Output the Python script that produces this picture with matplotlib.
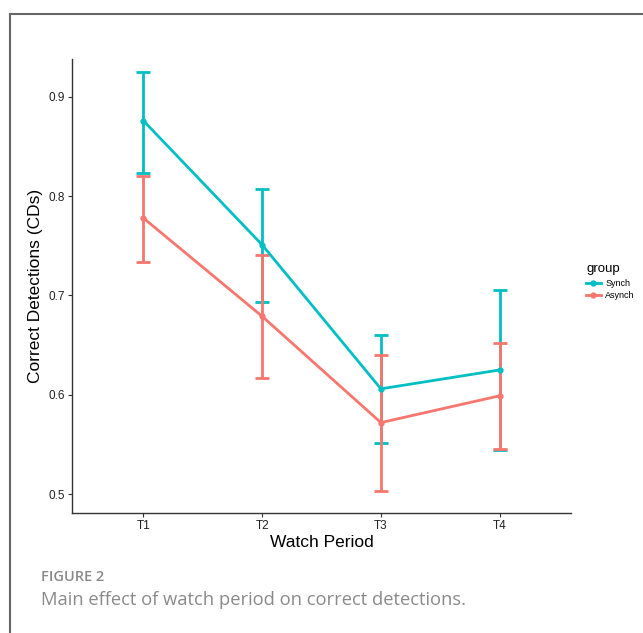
import matplotlib.pyplot as plt
from matplotlib.lines import Line2D
import numpy as np

periods = ["T1", "T2", "T3", "T4"]
groups = ["Synch", "Asynch"]
colors = {"Synch": "#00BFC4", "Asynch": "#F8766D"}

synch_mean = [0.876, 0.751, 0.606, 0.625]
synch_low = [0.823, 0.693, 0.551, 0.544]
synch_high = [0.925, 0.807, 0.660, 0.705]

asynch_mean = [0.778, 0.679, 0.572, 0.599]
asynch_low = [0.734, 0.617, 0.503, 0.545]
asynch_high = [0.820, 0.741, 0.640, 0.652]

plt.rcParams['font.family'] = ['Liberation Sans', 'DejaVu Sans']

fig = plt.figure(figsize=(6.43, 6.33), dpi=100)
ax = fig.add_axes([72 / 643, 1 - 513 / 633, (571 - 72) / 643, (513 - 59) / 633])

x = np.arange(1, len(periods) + 1)
series = {
    "Synch": (synch_mean, synch_low, synch_high),
    "Asynch": (asynch_mean, asynch_low, asynch_high),
}
# ggplot layer order: error bars for both groups, then lines, then points
for g in groups:
    m, lo, hi = (np.array(v) for v in series[g])
    ax.errorbar(x, m, yerr=[m - lo, hi - m], color=colors[g], fmt='none',
                elinewidth=2.0, capsize=5, capthick=2.0, zorder=2)
for g in groups:
    m = series[g][0]
    ax.plot(x, m, color=colors[g], lw=2.0, marker='o', markersize=3.5, zorder=3)

ax.set_xlim(0.4, 4.6)
ax.set_ylim(0.481, 0.938)
ax.set_xticks(x)
ax.set_xticklabels(periods)
ax.set_yticks([0.5, 0.6, 0.7, 0.8, 0.9])
ax.set_yticklabels(["0.5", "0.6", "0.7", "0.8", "0.9"])
ax.tick_params(labelsize=8.5, length=3, width=0.8, color='#333333', labelcolor='#222222', pad=2)
for s in ["top", "right"]:
    ax.spines[s].set_visible(False)
for s in ["left", "bottom"]:
    ax.spines[s].set_color('#333333')
    ax.spines[s].set_linewidth(1.0)

ax.set_xlabel("Watch Period", fontsize=12.5, labelpad=2)
ax.set_ylabel("Correct Detections (CDs)", fontsize=12.5, labelpad=4)

# legend
handles = [Line2D([0], [0], color=colors[g], lw=2, marker='o', markersize=3.5) for g in groups]
leg = fig.legend(handles, groups, title="group", loc='upper left',
                 bbox_to_anchor=(578 / 643, 1 - 255 / 633), frameon=False,
                 fontsize=6.5, title_fontsize=9.5, handlelength=1.6,
                 handletextpad=0.5, labelspacing=0.4)
leg._legend_box.align = "left"

# figure frame and caption
fig.add_artist(Line2D([10 / 643, 10 / 643], [0, 1 - 14 / 633], transform=fig.transFigure,
                      color='#666666', lw=1.5))
fig.add_artist(Line2D([10 / 643, 1], [1 - 14 / 633, 1 - 14 / 633], transform=fig.transFigure,
                      color='#666666', lw=1.5))
fig.text(41 / 643, 1 - 577 / 633, "FIGURE 2", fontsize=10.5, color='#8a8a8a',
         fontweight='semibold', family=['Open Sans', 'DejaVu Sans'], va='center')
fig.text(41 / 643, 1 - 600 / 633, "Main effect of watch period on correct detections.",
         fontsize=13.2, color='#8a8a8a', family=['Open Sans', 'DejaVu Sans'], va='center')

fig.savefig("out.png", dpi=100, facecolor='white')
